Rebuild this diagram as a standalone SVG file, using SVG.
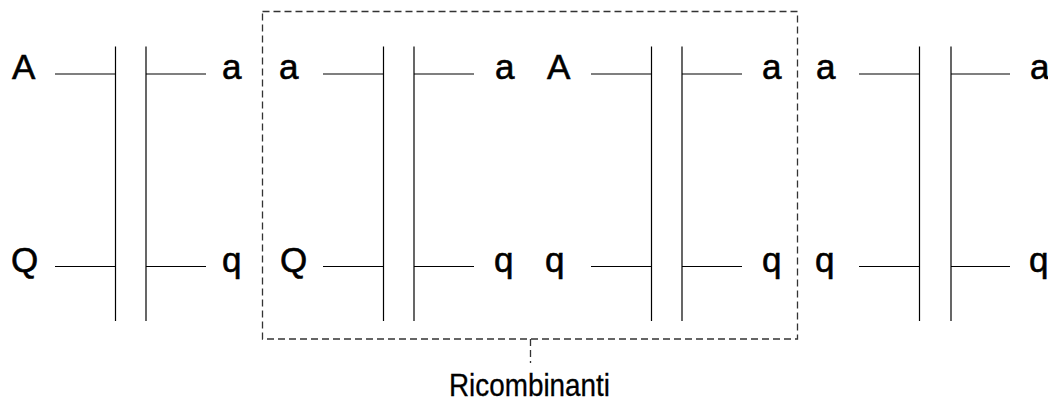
<svg xmlns="http://www.w3.org/2000/svg" width="1048" height="401" viewBox="0 0 1048 401">
<style>
.ln{stroke:#000;stroke-width:1.2;fill:none}
.lb{font-family:"Liberation Sans",Arial,Helvetica,sans-serif;font-size:35px;fill:#000;stroke:#000;stroke-width:0.6}
.cap{font-family:"Liberation Sans",Arial,Helvetica,sans-serif;font-size:32px;fill:#000;stroke:#000;stroke-width:0.3}
.dash{stroke:#333;stroke-width:1.3;fill:none;stroke-dasharray:7 4}
</style>
<rect width="1048" height="401" fill="#fff"/>
<g id="pair1">
<line class="ln" x1="115.5" y1="46.5" x2="115.5" y2="321"/>
<line class="ln" x1="146" y1="46.5" x2="146" y2="321"/>
<line class="ln" x1="55" y1="74" x2="115.5" y2="74"/>
<line class="ln" x1="146" y1="74" x2="206" y2="74"/>
<line class="ln" x1="55" y1="266.5" x2="115.5" y2="266.5"/>
<line class="ln" x1="146" y1="266.5" x2="206" y2="266.5"/>
<text class="lb" x="12" y="79">A</text>
<text class="lb" x="222" y="79">a</text>
<text class="lb" x="11" y="272">Q</text>
<text class="lb" x="222" y="272">q</text>
</g>
<g id="pair2">
<line class="ln" x1="383.5" y1="46.5" x2="383.5" y2="321"/>
<line class="ln" x1="414" y1="46.5" x2="414" y2="321"/>
<line class="ln" x1="323" y1="74" x2="383.5" y2="74"/>
<line class="ln" x1="414" y1="74" x2="474" y2="74"/>
<line class="ln" x1="323" y1="266.5" x2="383.5" y2="266.5"/>
<line class="ln" x1="414" y1="266.5" x2="474" y2="266.5"/>
<text class="lb" x="279" y="79">a</text>
<text class="lb" x="495" y="79">a</text>
<text class="lb" x="280" y="272">Q</text>
<text class="lb" x="494" y="272">q</text>
</g>
<g id="pair3">
<line class="ln" x1="651.5" y1="46.5" x2="651.5" y2="321"/>
<line class="ln" x1="682" y1="46.5" x2="682" y2="321"/>
<line class="ln" x1="591" y1="74" x2="651.5" y2="74"/>
<line class="ln" x1="682" y1="74" x2="742" y2="74"/>
<line class="ln" x1="591" y1="266.5" x2="651.5" y2="266.5"/>
<line class="ln" x1="682" y1="266.5" x2="742" y2="266.5"/>
<text class="lb" x="547" y="79">A</text>
<text class="lb" x="762" y="79">a</text>
<text class="lb" x="545" y="272">q</text>
<text class="lb" x="762" y="272">q</text>
</g>
<g id="pair4">
<line class="ln" x1="919.5" y1="46.5" x2="919.5" y2="321"/>
<line class="ln" x1="951" y1="46.5" x2="951" y2="321"/>
<line class="ln" x1="859" y1="74" x2="919.5" y2="74"/>
<line class="ln" x1="951" y1="74" x2="1010" y2="74"/>
<line class="ln" x1="859" y1="266.5" x2="919.5" y2="266.5"/>
<line class="ln" x1="951" y1="266.5" x2="1010" y2="266.5"/>
<text class="lb" x="816" y="79">a</text>
<text class="lb" x="1030" y="79">a</text>
<text class="lb" x="815" y="272">q</text>
<text class="lb" x="1029" y="272">q</text>
</g>
<g id="ricombinanti">
<rect class="dash" x="262.5" y="11.5" width="535" height="327.5"/>
<line class="dash" x1="530.5" y1="339" x2="530.5" y2="363"/>
<text class="cap" x="449" y="396" textLength="161" lengthAdjust="spacingAndGlyphs">Ricombinanti</text>
</g>
</svg>
